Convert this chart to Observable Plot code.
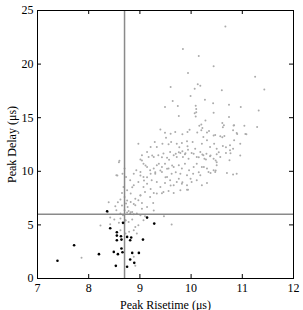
<!DOCTYPE html>
<html><head><meta charset="utf-8">
<script src="https://cdn.jsdelivr.net/npm/d3@7"></script>
<script src="https://cdn.jsdelivr.net/npm/@observablehq/plot@0.6"></script>
<style>body{margin:0;background:#fff}</style>
</head><body><div id="chart"></div>
<script>
const grayX = [10.67,9.84,10.15,10.44,9.94,11.25,9.60,10.13,10.18,10.07,11.43,10.60,9.99,9.64,10.27,10.74,9.49,9.74,10.09,10.10,10.10,10.09,10.97,11.32,9.76,10.44,10.74,11.29,11.04,9.40,9.49,9.60,9.69,9.83,9.93,9.97,10.16,10.22,10.20,10.12,10.31,10.35,10.62,10.64,10.82,10.89,11.08,10.84,9.92,9.72,9.29,9.21,9.33,9.44,9.56,9.61,9.77,9.82,9.93,10.03,10.08,10.21,10.31,10.37,10.45,10.50,10.62,10.76,10.24,10.44,10.57,8.97,10.96,
9.14,9.04,9.01,9.17,9.27,9.36,9.46,9.53,9.59,9.66,9.72,9.79,9.84,9.88,9.95,10.01,10.11,10.18,10.24,10.29,10.37,10.44,10.50,10.57,10.68,10.76,10.75,10.82,10.50,10.44,10.31,10.21,10.11,10.05,9.96,9.88,9.82,9.76,9.66,9.56,9.49,9.43,9.33,9.27,9.20,9.14,9.07,9.01,8.93,8.88,9.07,9.30,9.43,9.53,9.62,9.79,9.92,10.04,10.18,10.34,10.47,10.70,10.82,10.89,8.60,8.70,8.66,8.54,
8.73,8.81,8.88,8.97,9.07,9.14,9.23,9.33,9.40,9.49,9.59,9.66,9.72,9.82,9.92,10.01,10.11,10.21,10.31,9.27,9.33,9.46,9.56,9.66,9.79,9.92,9.20,9.10,9.01,8.91,8.82,8.75,8.68,8.65,8.70,8.62,8.57,
8.73,8.76,8.82,8.91,8.97,9.04,9.14,9.26,8.70,8.75,8.78,8.81,8.85,8.88,8.94,9.01,9.10,8.54,8.62,8.67,8.52,8.42,
8.23,8.42,8.50,8.59,8.62,8.72,8.78,8.85,8.91,8.97,9.07,8.62,8.72,8.79,8.88,8.94,9.47,9.62,7.86,8.91,8.88,
10.61,10.84,10.43,9.51,10.20,10.65,10.47,
9.70,9.76,9.83,9.89,9.94,10.05,10.15,10.22,10.26,10.30,10.38,10.48,10.50,10.54,10.68,10.77,10.96,10.48,10.38,10.25,10.15,9.99,9.94,9.83,9.76,9.70,9.63,9.53,9.50,9.40,9.30,9.21,9.14,9.08,9.01,9.11,9.04,9.24,9.37,9.43,9.57,9.60,9.43,9.21,9.01,8.85,8.75,8.88,9.04,8.82,8.72,8.65,8.59,8.56,8.39,8.37,9.27,10.61,10.83,10.90,11.06,10.07,10.28];
const grayY = [23.51,21.40,20.75,19.81,19.16,18.82,17.86,18.11,17.98,17.70,17.64,17.55,17.02,16.55,16.68,16.21,15.99,16.09,16.12,15.81,15.50,15.12,15.99,15.68,15.16,15.47,15.06,14.13,14.25,13.91,13.60,13.51,13.66,13.45,13.66,13.88,14.25,14.04,13.82,13.63,13.63,13.76,14.10,14.29,13.82,13.57,13.45,12.89,12.80,12.58,12.73,12.27,12.27,12.58,12.52,12.73,12.24,12.64,12.33,12.73,12.11,12.58,12.89,12.27,12.58,12.11,12.36,12.42,13.20,13.35,13.26,12.58,12.58,
11.80,11.49,11.09,11.34,11.34,11.49,11.65,11.27,11.80,11.49,11.34,11.71,11.34,11.58,11.18,11.71,11.34,11.80,11.49,11.09,11.40,11.18,11.58,11.34,11.71,11.96,11.02,12.11,10.56,10.09,10.25,10.40,10.71,10.40,10.09,10.71,10.25,10.56,10.40,10.25,10.71,10.40,10.56,10.25,10.09,10.40,10.71,9.94,10.09,9.78,9.47,9.78,9.94,9.47,9.78,9.78,9.63,9.78,9.63,9.94,9.94,9.84,9.69,9.78,10.99,10.25,9.78,9.63,
9.47,9.16,8.70,9.01,8.54,8.85,9.16,9.01,8.54,8.91,9.16,8.70,9.01,8.85,8.70,9.01,9.16,8.70,8.91,7.98,7.92,8.07,8.17,7.98,8.23,8.29,7.61,8.07,7.76,7.45,7.92,8.23,8.54,7.98,7.61,7.36,7.11,
6.99,6.68,7.14,6.83,7.30,7.05,6.68,7.05,6.37,6.15,6.30,6.06,6.21,5.99,6.06,5.90,5.81,6.37,6.06,5.90,6.74,5.68,
4.94,5.06,5.50,5.19,5.59,5.43,5.28,5.50,4.81,4.97,5.43,4.50,4.19,4.35,4.50,4.19,5.81,5.03,1.93,1.18,2.02,
14.50,14.30,16.35,13.12,14.37,13.30,13.39,
11.63,11.78,11.88,11.69,12.00,11.63,11.32,11.57,11.16,11.63,11.47,11.00,10.85,11.78,12.25,11.69,11.47,10.08,9.83,10.39,9.92,9.30,8.27,8.99,9.30,9.92,10.54,10.23,9.45,10.08,9.92,9.76,9.45,9.14,9.61,10.54,11.00,11.47,10.70,11.32,11.07,8.68,7.96,8.36,7.74,8.52,7.28,6.96,6.50,6.19,5.41,6.81,10.85,9.61,7.12,6.19,6.34,13.18,14.27,13.49,13.49,15.42,14.74];
const blackX = [7.39,7.715,8.20,8.36,8.42,8.49,8.53,8.55,8.55,8.55,8.57,8.63,8.64,8.64,8.66,8.67,8.75,8.75,8.81,8.83,8.81,8.85,8.89,8.98,9.06,9.14,9.28];
const blackY = [1.65,3.10,2.27,6.27,4.69,2.48,1.18,4.32,4.00,3.57,2.27,3.94,3.63,2.80,2.45,5.19,3.88,1.09,3.57,3.82,1.77,2.39,1.46,2.39,3.63,5.68,5.12];
const xTicks = [7,8,9,10,11,12];
const yTicks = [0,5,10,15,20,25];
const riseThreshold = [8.7];
const delayThreshold = [6];
const xLabel = "Peak Risetime (μs)";
const yLabel = "Peak Delay (μs)";

const gray = grayX.map((x,i)=>({x, y: grayY[i]}));
const black = blackX.map((x,i)=>({x, y: blackY[i]}));

const W = 303, H = 310, ML = 37, MR = 10, MT = 10, MB = 32, TK = 4;
const fw = W - ML - MR, fh = H - MT - MB;

const chart = Plot.plot({
  width: W, height: H,
  marginLeft: ML, marginRight: MR, marginTop: MT, marginBottom: MB,
  style: {fontFamily: "'Liberation Serif', 'Times New Roman', serif", fontSize: "12px", color: "#000", background: "#fff"},
  x: {domain: [7,12], ticks: xTicks},
  y: {domain: [0,25], ticks: yTicks},
  marks: [
    Plot.dot(gray, {x:"x", y:"y", r:1.0, fill:"#ababab", stroke:null}),
    Plot.ruleX(riseThreshold, {stroke:"#8a8a8a", strokeWidth:1.5}),
    Plot.ruleY(delayThreshold, {stroke:"#8a8a8a", strokeWidth:1.5}),
    Plot.dot(black, {x:"x", y:"y", r:1.3, fill:"#000", stroke:null}),
    Plot.axisX(xTicks, {anchor:"bottom", tickSize:0, tickPadding:5, fontSize:12, label: xLabel, labelAnchor:"center", labelOffset:30, labelArrow:"none"}),
    Plot.axisY(yTicks, {anchor:"left", tickSize:0, tickPadding:4, fontSize:12, label: yLabel, labelAnchor:"center", labelOffset:30, labelArrow:"none"}),
    // inward ticks on all four sides
    Plot.ruleX(xTicks, {insetTop: fh - TK, stroke:"#000"}),
    Plot.ruleX(xTicks, {insetBottom: fh - TK, stroke:"#000"}),
    Plot.ruleY(yTicks, {insetRight: fw - TK, stroke:"#000"}),
    Plot.ruleY(yTicks, {insetLeft: fw - TK, stroke:"#000"}),
    Plot.frame({stroke:"#000", strokeWidth:1})
  ]
});
document.getElementById("chart").appendChild(chart);
</script></body></html>
